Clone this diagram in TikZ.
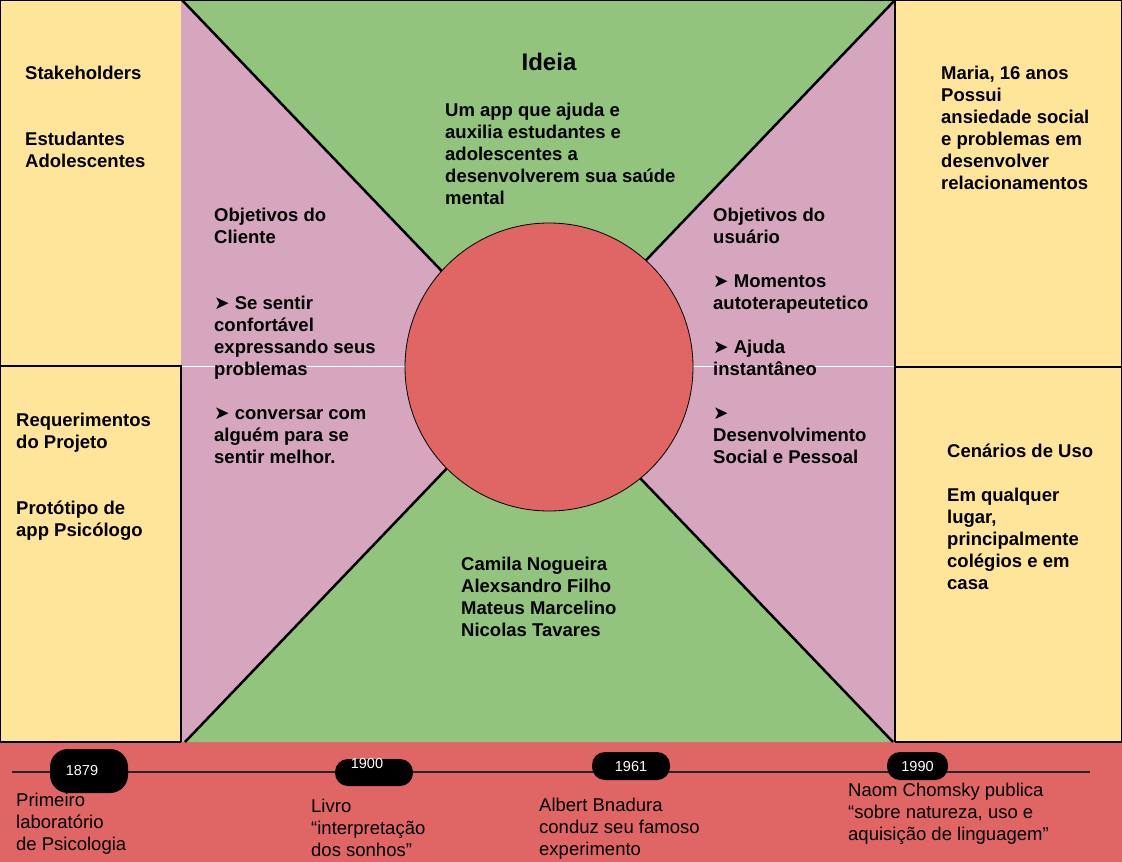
\documentclass[tikz,border=0pt]{standalone}
\usepackage{fontspec}
\setmainfont{Liberation Sans}
\newfontfamily\symfont{DejaVu Sans}
\definecolor{cream}{RGB}{255,229,153}
\definecolor{leaf}{RGB}{147,196,125}
\definecolor{mauve}{RGB}{213,166,189}
\definecolor{salmon}{RGB}{224,102,102}
\newcommand{\pointer}{{\symfont ➤}}
\tikzset{
  panel/.style={draw=black, line width=2pt},
  cross/.style={draw=black, line width=2.5pt},
  bold text/.style={anchor=north west, inner sep=0pt, align=left, font=\bfseries\fontsize{18.5}{22}\selectfont},
  plain text/.style={anchor=north west, inner sep=0pt, align=left, font=\fontsize{18.5}{22}\selectfont},
  year/.style={fill=black, text=white, rounded corners=13pt, inner sep=0pt, font=\fontsize{14.5}{16}\selectfont}
}
\begin{document}
\begin{tikzpicture}[x=1pt, y=-1pt]
\useasboundingbox (0,0) rectangle (1122,862);

% timeline band
\fill[salmon] (0,742) rectangle (1122,862);

% centre: pink sides, green top and bottom
\fill[mauve] (181,0) rectangle (895,742);
\coordinate (tl) at (182,0);
\coordinate (tr) at (895,0);
\coordinate (bl) at (185,742);
\coordinate (br) at (893,742);
\coordinate (mid) at (539,372);
\fill[leaf] (tl) -- (tr) -- (mid) -- cycle;
\fill[leaf] (bl) -- (br) -- (mid) -- cycle;
\draw[cross] (tl) -- (br);
\draw[cross] (tr) -- (bl);
\draw[white, line width=0.6pt] (181,366) -- (895,366);
\node (core) [circle, draw=black, line width=0.8pt, fill=salmon, minimum size=288pt, inner sep=0pt] at (549,367) {};

% yellow side panels
\fill[cream] (0,0) rectangle (181,742);
\fill[cream] (895,0) rectangle (1122,742);
\draw[panel] (181,742) -- (0,742) -- (0,0) -- (1122,0) -- (1122,742) -- (895,742);
\draw[panel] (0,366) -- (181,366) -- (181,742);
\draw[panel] (895,0) -- (895,742);
\draw[panel] (895,367) -- (1122,367);

% texts
\node (stake) [bold text] at (25,66) {Stakeholders\\[44pt]Estudantes\\Adolescentes};
\node (req) [bold text] at (16,413) {Requerimentos\\do Projeto\\[44pt]Protótipo de\\app Psicólogo};
\node (ideia) [font=\bfseries\fontsize{24}{28}\selectfont, inner sep=0pt] at (549,62) {Ideia};
\node (ideatext) [bold text] at (445,103) {Um app que ajuda e\\auxilia estudantes e\\adolescentes a\\desenvolverem sua saúde\\mental};
\node (client) [bold text] at (214,208) {Objetivos do\\Cliente\\[44pt]\pointer{} Se sentir\\confortável\\expressando seus\\problemas\\[22pt]\pointer{} conversar com\\alguém para se\\sentir melhor.};
\node (user) [bold text] at (713,208) {Objetivos do\\usuário\\[22pt]\pointer{} Momentos\\autoterapeutetico\\[22pt]\pointer{} Ajuda\\instantâneo\\[22pt]\pointer\\Desenvolvimento\\Social e Pessoal};
\node (persona) [bold text] at (941,66) {Maria, 16 anos\\Possui\\ansiedade social\\e problemas em\\desenvolver\\relacionamentos};
\node (scenario) [bold text] at (947,444) {Cenários de Uso\\[22pt]Em qualquer\\lugar,\\principalmente\\colégios e em\\casa};
\node (team) [bold text] at (461,557) {Camila Nogueira\\Alexsandro Filho\\Mateus Marcelino\\Nicolas Tavares};

% timeline
\coordinate (tlstart) at (12,772);
\coordinate (tlend) at (1090,772);
\draw[line width=1.2pt, black!85] (tlstart) -- (tlend);
\node (y1879) [year, minimum width=78pt, minimum height=44pt, rounded corners=18pt] at (89,771) {1879\hspace*{14pt}};
\node (y1900) [year, minimum width=78pt, minimum height=27pt, text height=8pt, text depth=16pt] at (374,772.5) {1900\hspace*{14pt}};
\node (y1961) [year, minimum width=78pt, minimum height=28pt] at (631,766) {1961};
\node (y1990) [year, minimum width=61pt, minimum height=28pt] at (917.5,766) {1990};

\node (ev1879) [plain text] at (16,793) {Primeiro\\laboratório\\de Psicologia};
\node (ev1900) [plain text] at (311,799) {Livro\\“interpretação\\dos sonhos”};
\node (ev1961) [plain text] at (539,798) {Albert Bnadura\\conduz seu famoso\\experimento};
\node (ev1990) [plain text] at (848,783) {Naom Chomsky publica\\“sobre natureza, uso e\\aquisição de linguagem”};
\end{tikzpicture}
\end{document}
